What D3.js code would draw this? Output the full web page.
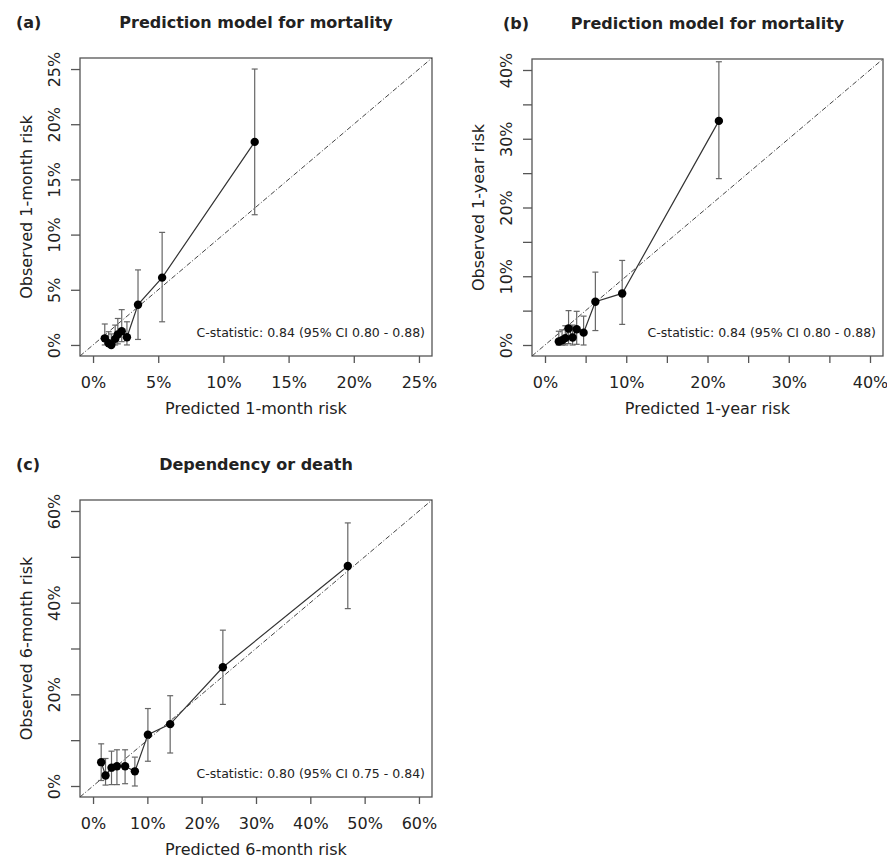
<!DOCTYPE html>
<html lang="en">
<head>
<meta charset="UTF-8">
<title>Calibration plots</title>
<script src="https://cdn.jsdelivr.net/npm/d3@7"></script>
<style>
    body { margin: 0; background: #fff; font-family: "DejaVu Sans", Arial, sans-serif; }
    svg text { fill: #222; }
</style>
</head>
<body>
<div id="chart"></div>
<script>
// panel (a): 1-month mortality, deciles of predicted risk (%)
const predA = [0.9, 1.2, 1.4, 1.7, 1.9, 2.2, 2.6, 3.45, 5.3, 12.4];
const obsA  = [0.6, 0.15, 0.0, 0.55, 0.95, 1.25, 0.7, 3.65, 6.1, 18.4];
const lowA  = [0.0, 0.0, 0.0, 0.0, 0.1, 0.3, 0.0, 0.5, 2.1, 11.8];
const highA = [1.9, 1.2, 1.0, 1.8, 2.4, 3.2, 2.1, 6.8, 10.2, 25.0];

// panel (b): 1-year mortality
const predB = [1.7, 2.1, 2.5, 2.9, 3.4, 3.9, 4.75, 6.2, 9.5, 21.4];
const obsB  = [0.5, 0.7, 1.0, 2.4, 1.1, 2.3, 1.8, 6.3, 7.5, 32.6];
const lowB  = [0.0, 0.0, 0.0, 0.2, 0.0, 0.1, 0.0, 2.1, 3.0, 24.2];
const highB = [2.0, 2.2, 2.8, 5.0, 2.9, 4.9, 4.2, 10.6, 12.3, 41.2];

// panel (c): dependency or death at 6 months
const predC = [1.5, 2.3, 3.4, 4.4, 5.9, 7.7, 10.1, 14.2, 23.9, 46.9];
const obsC  = [5.2, 2.3, 4.0, 4.3, 4.3, 3.2, 11.2, 13.5, 25.9, 48.0];
const lowC  = [1.2, 0.2, 0.3, 0.3, 0.5, 0.0, 5.4, 7.2, 17.8, 38.7];
const highC = [9.2, 6.0, 7.6, 7.9, 7.9, 6.3, 16.9, 19.7, 34.0, 57.4];

const ticksA = [0, 5, 10, 15, 20, 25];
const ticksB = [0, 5, 10, 15, 20, 25, 30, 35, 40];
const ticksC = [0, 10, 20, 30, 40, 50, 60];

const labA = {x: [0, 5, 10, 15, 20, 25], y: [0, 5, 10, 15, 20, 25]};
const labB = {x: [0, 10, 20, 30, 40], y: [0, 10, 20, 30, 40]};
const labC = {x: [0, 10, 20, 30, 40, 50, 60], y: [0, 20, 40, 60]};

const FONT = '"DejaVu Sans", Arial, sans-serif';

const svg = d3.select("#chart").append("svg")
    .attr("width", 887)
    .attr("height", 860)
    .style("font-family", FONT);

function panel(opt) {
    const n = opt.pred.length;
    const rows = d3.range(n).map(i => ({
        x: opt.pred[i], y: opt.obs[i], lo: opt.low[i], hi: opt.high[i]
    }));
    const lim = opt.lim;
    const ext = (lim[1] - lim[0]) * 0.04;   // R style axis padding
    const dom = [lim[0] - ext, lim[1] + ext];

    const x = d3.scaleLinear().domain(dom).range([opt.left, opt.right]);
    const y = d3.scaleLinear().domain(dom).range([opt.bottom, opt.top]);

    const g = svg.append("g");

    // box
    g.append("rect")
        .attr("x", opt.left).attr("y", opt.top)
        .attr("width", opt.right - opt.left)
        .attr("height", opt.bottom - opt.top)
        .attr("fill", "none")
        .attr("stroke", "#555")
        .attr("stroke-width", 1.3);

    // axes
    const fmtX = d => opt.labs.x.includes(d) ? d + "%" : "";
    const fmtY = d => opt.labs.y.includes(d) ? d + "%" : "";

    const ax = g.append("g")
        .attr("transform", `translate(0,${opt.bottom})`)
        .call(d3.axisBottom(x).tickValues(opt.ticks).tickFormat(fmtX).tickSize(7).tickPadding(14));
    ax.select(".domain").remove();
    ax.selectAll("line").attr("stroke", "#555").attr("stroke-width", 1.3);
    ax.selectAll("text").style("font-size", "16px").style("font-family", FONT).attr("fill", "#222");

    const ay = g.append("g")
        .attr("transform", `translate(${opt.left},0)`)
        .call(d3.axisLeft(y).tickValues(opt.ticks).tickFormat(fmtY).tickSize(9));
    ay.select(".domain").remove();
    ay.selectAll("line").attr("stroke", "#555").attr("stroke-width", 1.3);
    ay.selectAll("text")
        .attr("x", null).attr("dy", null)
        .attr("text-anchor", "middle")
        .attr("transform", "translate(-20,0) rotate(-90)")
        .style("font-size", "16px")
        .style("font-family", FONT)
        .attr("fill", "#222");

    // axis titles
    g.append("text")
        .attr("x", (opt.left + opt.right) / 2)
        .attr("y", opt.bottom + 58)
        .attr("text-anchor", "middle")
        .style("font-size", "16px")
        .text(opt.xlab);
    g.append("text")
        .attr("transform", `translate(${opt.left - 48},${(opt.top + opt.bottom) / 2}) rotate(-90)`)
        .attr("text-anchor", "middle")
        .style("font-size", "16px")
        .text(opt.ylab);

    // titles
    g.append("text")
        .attr("x", (opt.left + opt.right) / 2)
        .attr("y", opt.top - 30)
        .attr("text-anchor", "middle")
        .style("font-size", "16px")
        .style("font-weight", "bold")
        .text(opt.title);
    g.append("text")
        .attr("x", opt.tagX)
        .attr("y", opt.top - 30)
        .style("font-size", "16px")
        .style("font-weight", "bold")
        .text(opt.tag);

    // diagonal reference line
    g.append("line")
        .attr("x1", x(dom[0])).attr("y1", y(dom[0]))
        .attr("x2", x(dom[1])).attr("y2", y(dom[1]))
        .attr("stroke", "#444")
        .attr("stroke-width", 1)
        .attr("stroke-dasharray", "5,2,1,2");

    // error bars
    const eb = g.append("g").attr("stroke", "#666").attr("stroke-width", 1.2);
    rows.forEach(d => {
        eb.append("line")
            .attr("x1", x(d.x)).attr("x2", x(d.x))
            .attr("y1", y(d.lo)).attr("y2", y(d.hi));
        [d.lo, d.hi].forEach(v => {
            eb.append("line")
                .attr("x1", x(d.x) - 3).attr("x2", x(d.x) + 3)
                .attr("y1", y(v)).attr("y2", y(v));
        });
    });

    // observed vs predicted line
    g.append("path")
        .datum(rows)
        .attr("d", d3.line().x(d => x(d.x)).y(d => y(d.y)))
        .attr("fill", "none")
        .attr("stroke", "#333")
        .attr("stroke-width", 1.2);

    g.selectAll("circle.pt")
        .data(rows)
        .enter()
        .append("circle")
        .attr("class", "pt")
        .attr("cx", d => x(d.x))
        .attr("cy", d => y(d.y))
        .attr("r", 4.2)
        .attr("fill", "#000");

    // c-statistic note
    g.append("text")
        .attr("x", opt.right - 7)
        .attr("y", opt.bottom - 19)
        .attr("text-anchor", "end")
        .style("font-size", "12.5px")
        .text(opt.note);
}

panel({
    pred: predA, obs: obsA, low: lowA, high: highA,
    lim: [0, 25], ticks: ticksA, labs: labA,
    left: 80, right: 432, top: 58, bottom: 356,
    title: "Prediction model for mortality", tag: "(a)", tagX: 16,
    xlab: "Predicted 1-month risk", ylab: "Observed 1-month risk",
    note: "C-statistic: 0.84 (95% CI 0.80 - 0.88)"
});

panel({
    pred: predB, obs: obsB, low: lowB, high: highB,
    lim: [0, 40], ticks: ticksB, labs: labB,
    left: 532, right: 883, top: 59, bottom: 356,
    title: "Prediction model for mortality", tag: "(b)", tagX: 503,
    xlab: "Predicted 1-year risk", ylab: "Observed 1-year risk",
    note: "C-statistic: 0.84 (95% CI 0.80 - 0.88)"
});

panel({
    pred: predC, obs: obsC, low: lowC, high: highC,
    lim: [0, 60], ticks: ticksC, labs: labC,
    left: 80, right: 432, top: 500, bottom: 797,
    title: "Dependency or death", tag: "(c)", tagX: 16,
    xlab: "Predicted 6-month risk", ylab: "Observed 6-month risk",
    note: "C-statistic: 0.80 (95% CI 0.75 - 0.84)"
});
</script>
</body>
</html>
